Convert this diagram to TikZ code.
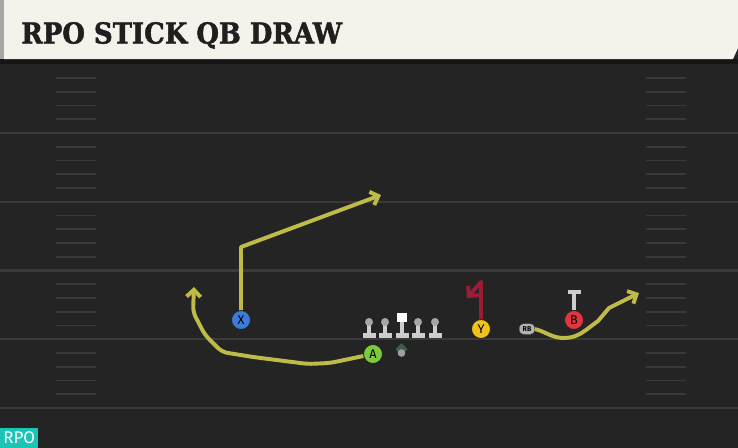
\documentclass[tikz,border=0pt]{standalone}
\usepackage{fontspec}
\newfontfamily\titlefont[FakeStretch=0.9,FakeBold=1.6]{DejaVu Serif}
\setsansfont{Fira Sans}
\usetikzlibrary{positioning,arrows.meta,shapes}

\definecolor{fieldbg}{HTML}{242424}
\definecolor{headbg}{HTML}{F4F2EB}
\definecolor{headbar}{HTML}{161616}
\definecolor{yardline}{HTML}{3A3A3A}
\definecolor{routeyellow}{HTML}{BEBB48}
\definecolor{blockred}{HTML}{9E1B35}
\definecolor{linegray}{HTML}{CDCDCD}
\definecolor{headgray}{HTML}{A6A6A6}
\definecolor{xblue}{HTML}{3C7BD8}
\definecolor{agreen}{HTML}{7BCB3C}
\definecolor{yyellow}{HTML}{F1C21E}
\definecolor{bred}{HTML}{E2353D}
\definecolor{qbgreen}{HTML}{3E5E4A}
\definecolor{tagteal}{HTML}{1CC4B6}

\begin{document}
\begin{tikzpicture}[x=0.025cm,y=-0.025cm,
	player/.style={circle,draw=black!85,line width=0.6pt,minimum size=13.5pt,inner sep=0pt,font=\sffamily\small},
	route/.style={draw=routeyellow,line width=2.8pt,-{Straight Barb[length=5pt,width=10pt]},line join=round},
	blockline/.style={draw=blockred,line width=2.8pt,-{Straight Barb[length=5pt,width=10pt]},line join=round},
	blockT/.style={draw=linegray,line width=2.4pt},
	hash/.style={draw=yardline,line width=1.4pt}]

	% field and header
	\useasboundingbox (0,0) rectangle (738,448);
	\fill[fieldbg] (0,0) rectangle (738,448);
	\fill[headbar] (0,59) rectangle (738,64);
	\fill[headbg] (4,0) -- (738,0) -- (738,48) -- (733,59) -- (4,59) -- cycle;
	\fill[gray!70] (0,0) rectangle (4,59);
	\node[anchor=base west,inner sep=0pt,text=black!88,font=\titlefont\bfseries\fontsize{20.5}{22}\selectfont] (title) at (21,43.5) {RPO STICK QB DRAW};

	\foreach \yl in {133,201.75,270.5,339.25,408}
		\draw[yardline,line width=1.6pt] (0,\yl) -- (738,\yl);
	\foreach \yl in {64.25,133,201.75,270.5,339.25}
		\foreach \k in {1,2,3,4} {
			\draw[hash] (56,\yl+\k*13.75) -- (96,\yl+\k*13.75);
			\draw[hash] (646,\yl+\k*13.75) -- (686,\yl+\k*13.75);
		}

	% offensive line
	\foreach \lx in {369,385,418,435} {
		\fill[linegray] (\lx-1.8,322) rectangle (\lx+1.8,334);
		\fill[linegray] (\lx-6.5,333) rectangle (\lx+6.5,338);
		\fill[headgray] (\lx,322) circle (4);
	}
	\fill[linegray] (400.2,318) rectangle (403.8,334);
	\fill[linegray] (395.5,333) rectangle (408.5,338);
	\fill[white] (397,313) rectangle (406.5,322);

	% quarterback
	\fill[qbgreen] (395.5,349) -- (401.5,343) -- (407.5,349) -- (405,352) -- (398,352) -- cycle;
	\fill[gray!75] (401.5,353) circle (3.8);

	% players
	\node[player,fill=xblue] (X) at (241,320) {X};
	\node[player,fill=agreen] (A) at (373,354) {A};
	\node[player,fill=yyellow] (Y) at (481,329) {Y};
	\node[player,fill=bred] (B) at (574,320) {B};
	\node[rounded corners=3pt,fill=gray!60,draw=black!60,line width=0.3pt,inner xsep=2.4pt,inner ysep=2pt,font=\sffamily\fontsize{5}{5}\selectfont\bfseries] (RB) at (527,329) {RB};

	% route points
	\coordinate (xbreak) at (241,247);
	\coordinate (xend) at (381,195);
	\coordinate (a1) at (330,363);
	\coordinate (a2) at (308,364);
	\coordinate (a3) at (253,357);
	\coordinate (a4) at (222,352);
	\coordinate (a5) at (205,335);
	\coordinate (a6) at (193,312);
	\coordinate (aend) at (194,287);
	\coordinate (yturn) at (481,282);
	\coordinate (yend) at (467,298);
	\coordinate (bblock) at (574,292);
	\coordinate (bleft) at (567.5,292);
	\coordinate (bright) at (580.5,292);
	\coordinate (rb1) at (564,338);
	\coordinate (rb2) at (598,321);
	\coordinate (rb3) at (609,308);
	\coordinate (rbend) at (639,293);

	% routes
	\draw[route] (X) -- (xbreak) -- (xend);
	\draw[route,rounded corners=4pt] (A) -- (a1) -- (a2) -- (a3) -- (a4) -- (a5) -- (a6) -- (aend);
	\draw[blockline] (Y) -- (yturn) -- (yend);
	\draw[blockT] (B) -- (bblock);
	\draw[blockT] (bleft) -- (bright);
	\draw[route] (RB.east) to[out=-15,in=180] (rb1) to[out=0,in=215] (rb2) -- (rb3) -- (rbend);

	% tag
	\node[fill=tagteal,text=white,anchor=south west,minimum width=38*0.025cm,minimum height=20*0.025cm,inner sep=0pt,font=\sffamily\fontsize{12}{12}\selectfont] (tag) at (0,448) {RPO};

\end{tikzpicture}
\end{document}
